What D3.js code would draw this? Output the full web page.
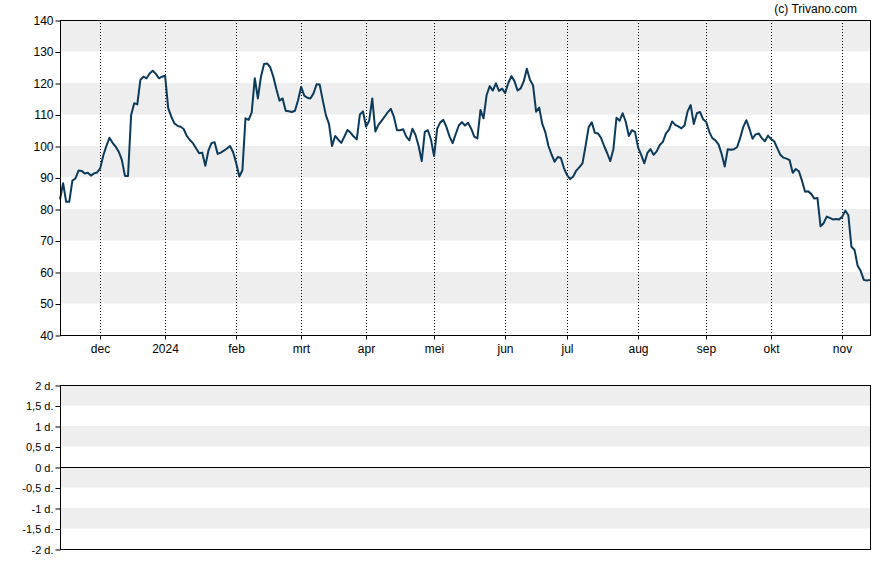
<!DOCTYPE html>
<html><head><meta charset="utf-8">
<script src="https://cdn.jsdelivr.net/npm/d3@7"></script>
<style>body{margin:0;background:#fff;} svg text{font-family:"Liberation Sans",Arial,sans-serif;fill:#000;}</style>
</head><body><svg id="c" width="888" height="565"></svg>
<script>
// ---- data ----
const startDate = "2023-11-14"; // first trading day shown (weekdays)
const prices = [
 83, 88.2, 82.3, 82.3, 89, 89.7, 92.2, 92.1, 91.3, 91.5,
 90.6, 91.3, 91.6, 92.9, 97, 100, 102.6, 101, 99.8, 98.2,
 95.6, 90.5, 90.5, 109.8, 113.6, 113.2, 121, 122, 121.5, 123,
 123.9, 122.9, 121.5, 122, 122.3, 112, 109.3, 107.2, 106.4, 106.1,
 105.4, 103.2, 101.9, 100.9, 99.3, 97.7, 97.9, 93.7, 98.5, 100.9,
 101.2, 97.5, 97.9, 98.5, 99.2, 100, 98, 94.5, 90.3, 92.3,
 108.8, 108.3, 110.6, 121.5, 115.1, 122, 126, 126.2, 125, 122,
 118, 114.4, 115.1, 111.2, 111, 110.8, 111.2, 114.5, 118.8, 116,
 115.3, 115.1, 116.7, 119.6, 119.5, 114.5, 109.8, 107, 100, 103.2,
 102, 101, 103, 105.1, 104.2, 103, 102.1, 110, 111, 106.1,
 108, 115.1, 104.6, 106.7, 108, 109.3, 110.7, 111.8, 109.3, 105,
 105, 105.3, 103, 101.8, 105.5, 103.5, 100, 95.2, 104.5, 105,
 102, 96.8, 105.5, 107.5, 108.3, 106, 103, 100.9, 103.8, 106.5,
 107.6, 106.5, 107.4, 105.5, 103, 102.4, 111.4, 108.8, 116.2, 119,
 117.6, 119.9, 117.5, 118.2, 116.8, 120, 122.2, 120.6, 117.6, 118.3,
 120.5, 124.5, 121, 119.3, 110.9, 112.2, 107, 104.3, 100, 97.3,
 95, 96.5, 96.2, 93, 90.8, 89.5, 90.3, 92.2, 93.3, 94.5,
 100, 106, 107.5, 104.2, 104, 102.6, 100, 97.7, 95.2, 99,
 109, 108, 110.4, 107.7, 103.2, 105, 104.5, 99.5, 97.2, 94.5,
 97.8, 99, 97.2, 98.3, 100.3, 101.3, 104, 105.2, 107.8, 106.7,
 106.2, 105.6, 106.5, 111, 113, 107, 110.4, 110.8, 108.5, 107.7,
 104.5, 102.5, 101.8, 100.5, 97.5, 93.5, 99, 98.8, 99, 99.6,
 102.5, 106, 108.2, 105.5, 102.3, 103.7, 104, 102.5, 101.5, 103.3,
 102.2, 101.5, 99.3, 97.2, 96.3, 96, 95.5, 91.5, 92.7, 92,
 89, 85.5, 85.6, 84.8, 83.3, 83.5, 74.5, 75.5, 77.6, 77.2,
 76.7, 76.8, 76.7, 77.5, 79.5, 78, 68, 67, 62, 60.3,
 57.5, 57.3, 57.5
];
const priceTicks = [40, 50, 60, 70, 80, 90, 100, 110, 120, 130, 140];
const monthNames = ["jan", "feb", "mrt", "apr", "mei", "jun", "jul", "aug", "sep", "okt", "nov", "dec"];
const lowerTicks = [2, 1.5, 1, 0.5, 0, -0.5, -1, -1.5, -2];
const lowerLabels = ["2 d.", "1,5 d.", "1 d.", "0,5 d.", "0 d.", "-0,5 d.", "-1 d.", "-1,5 d.", "-2 d."];
const credit = "(c) Trivano.com";

// ---- dates (weekdays) ----
const dates = [];
{
  let d = new Date(startDate + "T12:00:00");
  while (dates.length < prices.length) {
    const wd = d.getDay();
    if (wd !== 0 && wd !== 6) dates.push(new Date(d));
    d.setDate(d.getDate() + 1);
  }
}
const monthIdx = [];
for (let i = 1; i < dates.length; i++) {
  if (dates[i].getMonth() !== dates[i - 1].getMonth()) monthIdx.push(i);
}
const monthLabel = i => dates[i].getMonth() === 0 ? String(dates[i].getFullYear()) : monthNames[dates[i].getMonth()];

// ---- layout ----
const L = 60, R = 870;
const top1 = 20, bot1 = 335;
const top2 = 385, bot2 = 549;

const svg = d3.select("#c");
const x = d3.scaleLinear().domain([0, prices.length - 1]).range([L, R]);
const y = d3.scaleLinear().domain([40, 140]).range([bot1, top1]);
const y2 = d3.scaleLinear().domain([-2, 2]).range([bot2, top2]);

// bands top
const bands1 = priceTicks.slice(0, -1).filter(v => ((v - 50) % 20) === 0);
svg.append("g").selectAll("rect").data(bands1).join("rect")
  .attr("x", L).attr("width", R - L)
  .attr("y", d => y(d + 10)).attr("height", d => y(d) - y(d + 10))
  .attr("fill", "#eeeeee");

// bands bottom
const bands2 = [2, 1, 0, -1];
svg.append("g").selectAll("rect").data(bands2).join("rect")
  .attr("x", L).attr("width", R - L)
  .attr("y", d => y2(d)).attr("height", d => y2(d - 0.5) - y2(d))
  .attr("fill", "#eeeeee");

// dotted month lines
svg.append("g").selectAll("line").data(monthIdx).join("line")
  .attr("x1", d => Math.round(x(d)) + 0.5).attr("x2", d => Math.round(x(d)) + 0.5)
  .attr("y1", top1).attr("y2", bot1)
  .attr("stroke", "#000").attr("stroke-width", 1).attr("stroke-dasharray", "1,2");

// price line
const line = d3.line().x((d, i) => x(i)).y(d => y(d));
svg.append("path").datum(prices)
  .attr("d", line).attr("fill", "none")
  .attr("stroke", "#0b3a5b").attr("stroke-width", 2).attr("stroke-linejoin", "round");

// frames
svg.append("rect").attr("x", L + 0.5).attr("y", top1 + 0.5).attr("width", R - L).attr("height", bot1 - top1)
  .attr("fill", "none").attr("stroke", "#000").attr("stroke-width", 1);
svg.append("rect").attr("x", L + 0.5).attr("y", top2 + 0.5).attr("width", R - L).attr("height", bot2 - top2)
  .attr("fill", "none").attr("stroke", "#000").attr("stroke-width", 1);
svg.append("line").attr("x1", L).attr("x2", R).attr("y1", y2(0) + 0.5).attr("y2", y2(0) + 0.5)
  .attr("stroke", "#000").attr("stroke-width", 1);

// axes
const yAxis = d3.axisLeft(y).tickValues(priceTicks).tickSize(5).tickPadding(2).tickFormat(d3.format("d"));
const gy = svg.append("g").attr("transform", `translate(${L + 0.5},0.5)`).call(yAxis);
gy.select(".domain").remove();
gy.selectAll("text").attr("font-size", 12).style("font-family", '"Liberation Sans",Arial,sans-serif');

const y2Axis = d3.axisLeft(y2).tickValues(lowerTicks).tickSize(5).tickPadding(2)
  .tickFormat((d, i) => lowerLabels[i]);
const gy2 = svg.append("g").attr("transform", `translate(${L + 0.5},0.5)`).call(y2Axis);
gy2.select(".domain").remove();
gy2.selectAll("text").attr("font-size", 11).style("font-family", '"Liberation Sans",Arial,sans-serif');

const xAxis = d3.axisBottom(x).tickValues(monthIdx).tickSize(4).tickPadding(5).tickFormat(monthLabel);
const gx = svg.append("g").attr("transform", `translate(0.5,${bot1 + 0.5})`).call(xAxis);
gx.select(".domain").remove();
gx.selectAll(".tick").attr("transform", d => `translate(${Math.round(x(d))},0)`);
gx.selectAll("text").attr("font-size", 12).style("font-family", '"Liberation Sans",Arial,sans-serif');

// credit
svg.append("text").attr("x", 857).attr("y", 13).attr("text-anchor", "end")
  .attr("font-size", 12).text(credit);
</script>
</body></html>
